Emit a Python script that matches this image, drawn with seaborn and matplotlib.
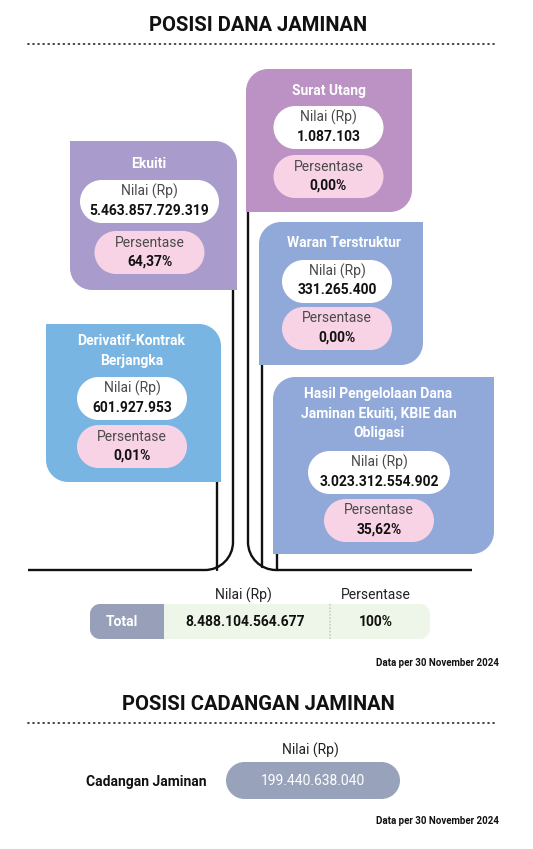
import matplotlib
matplotlib.use("Agg")
import matplotlib.pyplot as plt
from matplotlib.path import Path
from matplotlib.patches import PathPatch
import seaborn as sns

# ---------------- data ----------------
categories = ["Ekuiti", "Surat Utang", "Waran Terstruktur",
              "Derivatif-Kontrak\nBerjangka",
              "Hasil Pengelolaan Dana\nJaminan Ekuiti, KBIE dan\nObligasi"]
nilai = ["5.463.857.729.319", "1.087.103", "331.265.400",
         "601.927.953", "3.023.312.554.902"]
persentase = ["64,37%", "0,00%", "0,00%", "0,01%", "35,62%"]
total_label = "Total"
total_nilai = "8.488.104.564.677"
total_persen = "100%"
cadangan_label = "Cadangan Jaminan"
cadangan_nilai = "199.440.638.040"
title_dana = "POSISI DANA JAMINAN"
title_cadangan = "POSISI CADANGAN JAMINAN"
note = "Data per 30 November 2024"
lbl_nilai = "Nilai (Rp)"
lbl_persen = "Persentase"

# ---------------- style ----------------
sns.set_theme(style="white")
plt.rcParams['font.family'] = ['Roboto', 'DejaVu Sans']

box_colors = ["#a99bcb", "#bb92c3", "#91a9d9", "#78b5e3", "#91a9d9"]
PINK = "#f8d3e5"
TXT_GRAY = "#4a4a4a"

# layout: (x0, y0, x1, y1, corners(tl,tr,br,bl), title_cx, title_y,
#          pill_cx, nilai_pill(w,top), pers_pill(w,top))
layout = [
    (70, 141, 237, 290, (0, 1, 0, 1), 149, 164, 149.5, (139, 180), (110, 231)),
    (246, 69, 412, 212, (1, 0, 1, 0), 329, 91, 328.5, (110, 106), (110, 155)),
    (259, 222, 423, 365, (1, 0, 1, 0), 344, 243, 337, (110, 260), (110, 307)),
    (46, 324, 221, 482, (0, 1, 0, 1), 131.5, 341, 132, (110, 377), (110, 425)),
    (273, 377, 494, 554, (1, 0, 1, 0), 378.5, 394, 379, (142, 451), (110, 499)),
]

K = 0.5523


def rbox_path(x0, y0, x1, y1, r, corners):
    tl, tr, br, bl = [r if c else 0 for c in corners]
    M, L, C, Z = Path.MOVETO, Path.LINETO, Path.CURVE4, Path.CLOSEPOLY
    v = [(x0 + tl, y0), (x1 - tr, y0),
         (x1 - tr + K * tr, y0), (x1, y0 + tr - K * tr), (x1, y0 + tr),
         (x1, y1 - br),
         (x1, y1 - br + K * br), (x1 - br + K * br, y1), (x1 - br, y1),
         (x0 + bl, y1),
         (x0 + bl - K * bl, y1), (x0, y1 - bl + K * bl), (x0, y1 - bl),
         (x0, y0 + tl),
         (x0, y0 + tl - K * tl), (x0 + tl - K * tl, y0), (x0 + tl, y0),
         (x0 + tl, y0)]
    c = [M, L, C, C, C, L, C, C, C, L, C, C, C, L, C, C, C, Z]
    return Path(v, c)


def rbox(ax, x0, y0, x1, y1, r, corners, color, z=2, **kw):
    p = PathPatch(rbox_path(x0, y0, x1, y1, r, corners), facecolor=color,
                  edgecolor='none', zorder=z, **kw)
    ax.add_patch(p)


def pill(ax, cx, top, w, h, color, z=3):
    rbox(ax, cx - w / 2, top, cx + w / 2, top + h, h / 2, (1, 1, 1, 1), color, z)


fig = plt.figure(figsize=(5.33, 8.49), dpi=100)
ax = fig.add_axes([0, 0, 1, 1])
ax.set_xlim(0, 533)
ax.set_ylim(849, 0)
ax.axis('off')

# titles
ax.text(258, 25, title_dana, ha='center', va='center', fontsize=14.5,
        fontweight='bold', color='#111111')
ax.plot([28, 496], [44, 44], color='#333333', lw=1.3,
        ls=(0, (0.5, 2.3)), dash_capstyle='round', solid_capstyle='round')

# connector lines
M, L, C = Path.MOVETO, Path.LINETO, Path.CURVE4
R = 28
lw = 1.7
left = Path([(233, 290), (233, 570 - R), (233, 570 - R + K * R),
             (233 - R + K * R, 570), (233 - R, 570), (28, 570)],
            [M, L, C, C, C, L])
right = Path([(248, 212), (248, 570 - R), (248, 570 - R + K * R),
              (248 + R - K * R, 570), (248 + R, 570), (472, 570)],
             [M, L, C, C, C, L])
for pth in (left, right):
    ax.add_patch(PathPatch(pth, fill=False, edgecolor='#111111', lw=lw,
                           zorder=1, capstyle='butt'))
ax.plot([217, 217], [482, 570], color='#111111', lw=lw, zorder=1)
ax.plot([262, 262], [365, 567], color='#111111', lw=lw, zorder=1)
ax.plot([276.5, 276.5], [554, 570], color='#111111', lw=lw, zorder=1)

# boxes
for i, cat in enumerate(categories):
    x0, y0, x1, y1, corners, tcx, ty, pcx, (nw, nt), (pw, pt) = layout[i]
    rbox(ax, x0, y0, x1, y1, 22, corners, box_colors[i], z=2)
    for j, line in enumerate(cat.split("\n")):
        ax.text(tcx, ty + 19.5 * j, line, ha='center', va='center',
                fontsize=10, fontweight='bold', color='white', zorder=4)
    h = 43
    pill(ax, pcx, nt, nw, h, 'white')
    ax.text(pcx, nt + 11.5, lbl_nilai, ha='center', va='center', fontsize=10,
            color=TXT_GRAY, zorder=4)
    ax.text(pcx, nt + 30.5, nilai[i], ha='center', va='center', fontsize=10,
            fontweight='bold', color='#111111', zorder=4)
    pill(ax, pcx, pt, pw, h, PINK)
    ax.text(pcx, pt + 11.5, lbl_persen, ha='center', va='center', fontsize=10,
            color=TXT_GRAY, zorder=4)
    ax.text(pcx, pt + 30.5, persentase[i], ha='center', va='center',
            fontsize=10, fontweight='bold', color='#111111', zorder=4)

# total row
ax.text(243, 595, lbl_nilai, ha='center', va='center', fontsize=10,
        color='#222222')
ax.text(376, 595, lbl_persen, ha='center', va='center', fontsize=10,
        color='#222222')
rbox(ax, 90, 604, 430, 639, 10, (1, 1, 1, 1), '#eef6ea', z=2)
rbox(ax, 90, 604, 164, 639, 10, (1, 0, 0, 1), '#97a0b8', z=3)
ax.plot([330, 330], [604, 639], color='#c9cdc6', lw=1.2, ls=(0, (1, 1)),
        zorder=4)
ax.text(122, 621.5, total_label, ha='center', va='center', fontsize=10,
        fontweight='bold', color='white', zorder=5)
ax.text(245, 621.5, total_nilai, ha='center', va='center', fontsize=10,
        fontweight='bold', color='#111111', zorder=5)
ax.text(376, 621.5, total_persen, ha='center', va='center', fontsize=10,
        fontweight='bold', color='#111111', zorder=5)

ax.text(499, 663, note, ha='right', va='center', fontsize=7,
        fontweight='bold', color='#111111')

# cadangan section
ax.text(258, 704, title_cadangan, ha='center', va='center', fontsize=14.5,
        fontweight='bold', color='#111111')
ax.plot([28, 496], [723, 723], color='#333333', lw=1.3,
        ls=(0, (0.5, 2.3)), dash_capstyle='round', solid_capstyle='round')
ax.text(310, 750, lbl_nilai, ha='center', va='center', fontsize=10,
        color='#222222')
ax.text(146, 782, cadangan_label, ha='center', va='center', fontsize=10,
        fontweight='bold', color='#111111')
pill(ax, 313, 762, 174, 37, '#98a3bb')
ax.text(313, 781, cadangan_nilai, ha='center', va='center', fontsize=10,
        color='white', zorder=5)
ax.text(499, 821, note, ha='right', va='center', fontsize=7,
        fontweight='bold', color='#111111')

fig.savefig('out.png', dpi=100)
